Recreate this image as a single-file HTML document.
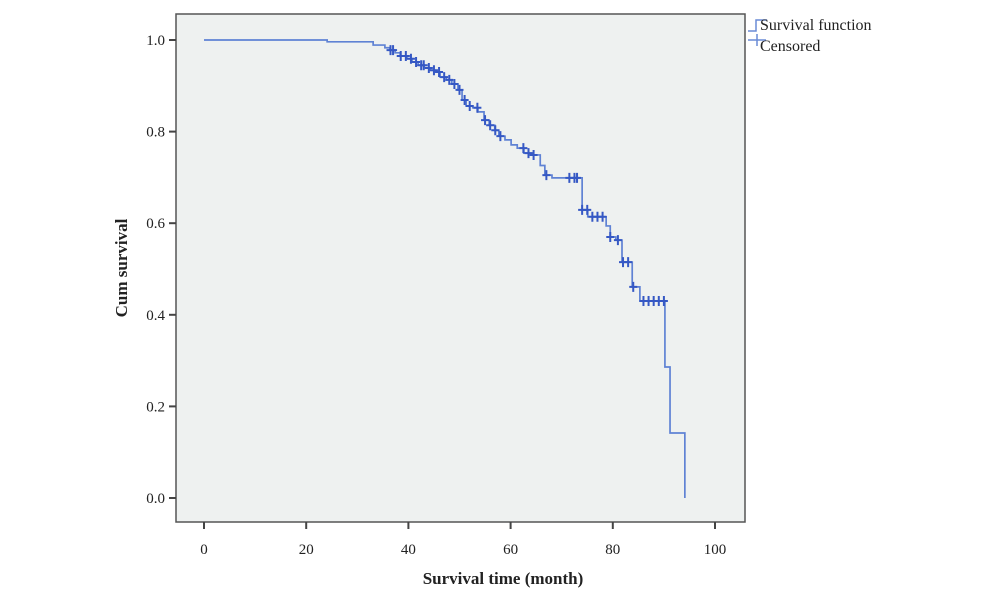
<!DOCTYPE html>
<html><head><meta charset="utf-8"><style>
body{margin:0;background:#fff;width:1000px;height:597px;overflow:hidden}
svg{display:block}
text{font-family:"Liberation Serif","DejaVu Serif",serif;fill:#222}
</style></head><body>
<svg id="chart" width="1000" height="597" viewBox="0 0 1000 597">
<rect x="176" y="14" width="569" height="508" fill="#eef1f0" stroke="#555" stroke-width="1.5"/>
<g id="axes"></g>
<g id="series"></g>
<text x="503" y="584" text-anchor="middle" font-size="17" font-weight="bold">Survival time (month)</text>
<text transform="translate(127,268) rotate(-90)" text-anchor="middle" font-size="17" font-weight="bold">Cum survival</text>
<g>
<path d="M748,31 H756 V20 H767" fill="none" stroke="#6a8bd6" stroke-width="1.5"/>
<text x="760" y="30" font-size="16">Survival function</text>
<path d="M748,40 H766 M757,34 V46" fill="none" stroke="#6a8bd6" stroke-width="1.5"/>
<text x="760" y="51" font-size="16">Censored</text>
</g>
</svg>
<script>
const xTicks=[0,20,40,60,80,100];
const yTicks=[0,0.2,0.4,0.6,0.8,1.0];
const eventTimes=[24.1,33.1,35.4,36.4,37.4,38.4,39.7,40.7,41.9,43.1,44.2,45.2,46.2,47.4,48.5,49.7,50.5,51.3,52.6,53.6,54.8,55.8,56.9,57.7,58.9,60.1,61.3,62.6,64.2,65.8,66.7,68.1,74.0,75.1,78.7,79.5,80.6,81.8,83.8,85.3,90.2,91.2,94.1];
const eventSurv=[0.996,0.989,0.983,0.978,0.972,0.965,0.959,0.952,0.945,0.939,0.934,0.930,0.919,0.913,0.904,0.891,0.869,0.856,0.852,0.843,0.825,0.814,0.803,0.790,0.782,0.771,0.764,0.753,0.749,0.726,0.705,0.699,0.629,0.614,0.594,0.570,0.563,0.515,0.461,0.430,0.286,0.142,0.0];
const censorTimes=[36.5,37,38.5,39.5,40.5,41.5,42.5,43,44,45,46,47,48,49,50,51,52,53.5,55,56,57,58,62.5,63.5,64.5,67,71.5,72.5,73,74,75,76,77,78,79.5,81,82,83,84,86,87,88,89,90];
const NS="http://www.w3.org/2000/svg";
const X=t=>204+t*5.11, Y=s=>498-s*458;
const ax=document.getElementById('axes'), se=document.getElementById('series');
function mk(tag,attrs,parent){const e=document.createElementNS(NS,tag);for(const k in attrs)e.setAttribute(k,attrs[k]);parent.appendChild(e);return e;}
xTicks.forEach(v=>{
  const l=mk('line',{x1:X(v),x2:X(v),y1:522,y2:529,stroke:'#444','stroke-width':2},ax);
  
  
  const t=mk('text',{x:X(v),y:554,'text-anchor':'middle','font-size':15},ax);t.textContent=v;
  
  
});
yTicks.forEach(v=>{
  const l=mk('line',{x1:169,x2:176,y1:Y(v),y2:Y(v),stroke:'#444','stroke-width':2},ax);
  
  
  const t=mk('text',{x:165,y:Y(v)+5,'text-anchor':'end','font-size':15},ax);t.textContent=v.toFixed(1);
  
  
});
let d='M'+X(0)+','+Y(1);
eventTimes.forEach((t,i)=>{d+=' H'+X(t)+' V'+Y(eventSurv[i]);});
const p=mk('path',{d:d,fill:'none',stroke:'#5f82d4','stroke-width':1.7},se);


function survAt(t){let s=1;for(let i=0;i<eventTimes.length;i++){if(eventTimes[i]<=t)s=eventSurv[i];}return s;}
censorTimes.forEach(t=>{
  const x=X(t),y=Y(survAt(t));
  const c=mk('path',{d:`M${x-4},${y} H${x+4} M${x},${y-5} V${y+5}`,stroke:'#3558c4','stroke-width':2,fill:'none'},se);
  
  
});
</script>
</body></html>
